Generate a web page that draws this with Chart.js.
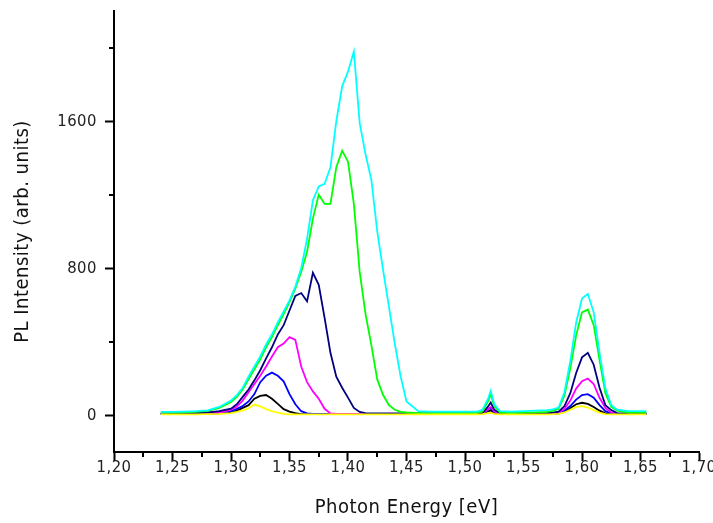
<!DOCTYPE html>
<html>
<head>
<meta charset="utf-8">
<script src="https://cdn.jsdelivr.net/npm/chart.js@4"></script>
<style>
  html, body { margin: 0; padding: 0; background: #fff; }
</style>
</head>
<body>
<canvas id="plchart" width="713" height="523"></canvas>
<script>
// photon energy grid (eV), shared by all spectra
const energy = [
  1.240, 1.250, 1.260, 1.270, 1.280, 1.290, 1.300, 1.305, 1.310, 1.315, 1.320,
  1.325, 1.330, 1.335, 1.340, 1.345, 1.350, 1.355, 1.360, 1.365, 1.370, 1.375,
  1.380, 1.385, 1.390, 1.395, 1.400, 1.405, 1.410, 1.415, 1.420, 1.425, 1.430,
  1.435, 1.440, 1.445, 1.450, 1.460, 1.470, 1.480, 1.490, 1.500, 1.510, 1.515,
  1.520, 1.522, 1.525, 1.530, 1.540, 1.550, 1.560, 1.570, 1.575, 1.580, 1.585,
  1.590, 1.595, 1.600, 1.605, 1.610, 1.615, 1.620, 1.625, 1.630, 1.640, 1.655
];

// PL intensity (arb. units), one spectrum per colour
const cyanPL = [
  18, 18, 20, 22, 27, 45, 80, 110, 150, 210, 265,
  320, 385, 440, 505, 565, 625, 700, 800, 960, 1170, 1245,
  1260, 1350, 1600, 1790, 1870, 1980, 1590, 1420, 1280, 1000, 790,
  590, 390, 210, 75, 22, 20, 20, 20, 20, 20, 30,
  95, 133, 60, 22, 20, 22, 25, 28, 32, 42, 125,
  295, 505, 635, 660, 560, 340, 145, 55, 30, 22, 22
];
const greenPL = [
  15, 15, 16, 18, 24, 40, 72, 100, 140, 195, 250,
  305, 370, 425, 490, 550, 615, 690, 780, 890, 1070, 1200,
  1150, 1150, 1350, 1440, 1380, 1150, 780, 550, 380, 195, 110,
  55, 30, 18, 15, 12, 12, 12, 12, 12, 12, 20,
  80, 115, 50, 14, 12, 14, 16, 18, 24, 35, 108,
  255, 435, 560, 575, 490, 300, 120, 45, 25, 15, 15
];
const navyPL = [
  10, 10, 10, 12, 15, 22, 36, 60, 100, 140, 190,
  245, 310, 370, 440, 490, 570, 650, 665, 620, 775, 710,
  530, 340, 210, 150, 96, 40, 18, 12, 10, 10, 10,
  10, 10, 10, 10, 10, 10, 10, 10, 10, 10, 12,
  50, 69, 30, 10, 10, 10, 10, 12, 14, 20, 50,
  120, 230, 315, 340, 275, 150, 55, 28, 12, 10, 10
];
const magentaPL = [
  8, 8, 8, 8, 10, 15, 30, 48, 80, 125, 170,
  215, 265, 320, 370, 390, 425, 410, 265, 180, 130, 90,
  35, 10, 8, 8, 8, 8, 8, 8, 8, 8, 8,
  8, 8, 8, 8, 8, 8, 8, 8, 8, 8, 9,
  35, 45, 20, 8, 8, 8, 8, 9, 10, 14, 35,
  80, 145, 185, 200, 170, 95, 40, 15, 9, 8, 8
];
const bluePL = [
  8, 8, 8, 8, 9, 12, 22, 35, 50, 75, 115,
  180, 215, 232, 215, 185, 115, 60, 22, 10, 8, 8,
  8, 8, 8, 8, 8, 8, 8, 8, 8, 8, 8,
  8, 8, 8, 8, 8, 8, 8, 8, 8, 8, 9,
  35, 38, 18, 8, 8, 8, 8, 8, 9, 12, 25,
  50, 85, 110, 115, 95, 55, 22, 10, 8, 8, 8
];
const blackPL = [
  6, 6, 6, 6, 7, 10, 15, 25, 40, 55, 90,
  105, 110, 90, 62, 33, 20, 12, 6, 6, 6, 6,
  6, 6, 6, 6, 6, 6, 6, 6, 6, 6, 6,
  6, 6, 6, 6, 6, 6, 6, 6, 6, 6, 7,
  22, 27, 12, 6, 6, 6, 6, 6, 7, 9, 20,
  38, 60, 68, 62, 45, 25, 10, 6, 6, 6, 6
];
const yellowPL = [
  5, 5, 5, 5, 6, 8, 12, 18, 25, 38, 58,
  48, 33, 22, 14, 8, 5, 5, 5, 5, 5, 5,
  5, 5, 5, 5, 5, 5, 5, 5, 5, 5, 5,
  5, 5, 5, 5, 5, 5, 5, 5, 5, 5, 6,
  12, 13, 8, 5, 5, 5, 5, 5, 6, 8, 15,
  30, 45, 50, 42, 28, 14, 6, 5, 5, 5, 5
];

const xTicks = [1.20, 1.25, 1.30, 1.35, 1.40, 1.45, 1.50, 1.55, 1.60, 1.65, 1.70];
const yTicks = [0, 800, 1600];
const yMinor = [400, 1200, 2000];

const FONT = "'Liberation Sans Narrow', 'DejaVu Sans Condensed', 'Liberation Sans', sans-serif";

function pts(vals) {
  return energy.map((e, i) => ({ x: e, y: vals[i] }));
}

function spectrum(vals, color) {
  return { data: pts(vals), borderColor: color, backgroundColor: color, fill: false };
}

// the original text is a bit spaced out; canvas state keeps this through save/restore
const spacedText = {
  id: 'spacedText',
  beforeDraw(chart) {
    chart.ctx.letterSpacing = '0.5px';
  }
};

// small in-between ticks (Origin style)
const minorTicks = {
  id: 'minorTicks',
  afterDraw(chart) {
    const ctx = chart.ctx;
    const sx = chart.scales.x, sy = chart.scales.y;
    ctx.save();
    ctx.strokeStyle = '#000';
    ctx.lineWidth = 2;
    ctx.beginPath();
    for (let i = 0; i < xTicks.length - 1; i++) {
      const px = Math.round(sx.getPixelForValue((xTicks[i] + xTicks[i + 1]) / 2));
      ctx.moveTo(px, sx.top);
      ctx.lineTo(px, sx.top + 5);
    }
    yMinor.forEach(v => {
      const py = Math.round(sy.getPixelForValue(v));
      ctx.moveTo(sy.right, py);
      ctx.lineTo(sy.right - 5, py);
    });
    ctx.stroke();
    ctx.restore();
  }
};

new Chart(document.getElementById('plchart'), {
  type: 'line',
  data: {
    datasets: [
      spectrum(cyanPL, '#00FFFF'),
      spectrum(yellowPL, '#FFFF00'),
      spectrum(greenPL, '#00FF00'),
      spectrum(navyPL, '#000080'),
      spectrum(magentaPL, '#FF00FF'),
      spectrum(bluePL, '#0000FF'),
      spectrum(blackPL, '#000000')
    ]
  },
  options: {
    responsive: false,
    animation: false,
    layout: { padding: { left: 0, right: 14, top: 11, bottom: 0 } },
    plugins: {
      legend: { display: false },
      tooltip: { enabled: false }
    },
    elements: {
      point: { radius: 0 },
      line: { borderWidth: 1.8, tension: 0 }
    },
    scales: {
      x: {
        type: 'linear',
        min: 1.2,
        max: 1.7,
        afterBuildTicks: s => { s.ticks = xTicks.map(v => ({ value: v })); },
        afterFit: s => { s.height = 71; },
        border: { color: '#000', width: 2 },
        grid: { drawOnChartArea: false, tickLength: 9, tickWidth: 2, tickColor: '#000' },
        ticks: {
          color: '#222',
          padding: -3,
          maxRotation: 0,
          autoSkip: false,
          font: { family: FONT, size: 16.5 },
          callback: v => v.toFixed(2).replace('.', ',')
        },
        title: {
          display: true,
          text: 'Photon Energy [eV]',
          color: '#111',
          font: { family: FONT, size: 20 },
          padding: { top: 0, bottom: 3 }
        }
      },
      y: {
        type: 'linear',
        min: -200,
        max: 2200,
        afterBuildTicks: s => { s.ticks = yTicks.map(v => ({ value: v })); },
        afterFit: s => { s.width = 114; s.paddingTop = 0; s.paddingBottom = 0; },
        border: { color: '#000', width: 2 },
        grid: { drawOnChartArea: false, tickLength: 9, tickWidth: 2, tickColor: '#000' },
        ticks: {
          color: '#222',
          padding: 8,
          font: { family: FONT, size: 16.5 },
          callback: v => String(v)
        },
        title: {
          display: true,
          text: 'PL Intensity (arb. units)',
          color: '#111',
          font: { family: FONT, size: 20 },
          padding: { top: 11, bottom: 0 }
        }
      }
    }
  },
  plugins: [spacedText, minorTicks]
});
</script>
</body>
</html>
